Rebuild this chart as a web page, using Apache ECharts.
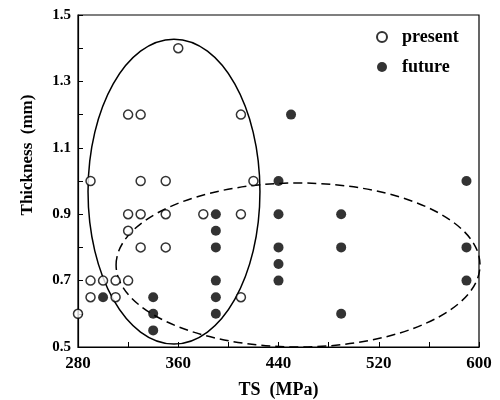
<!DOCTYPE html>
<html>
<head>
<meta charset="utf-8">
<script src="https://cdn.jsdelivr.net/npm/echarts@6/dist/echarts.min.js"></script>
<style>
  html, body { margin: 0; padding: 0; background: #fff; }
  #chart { width: 500px; height: 400px; }
</style>
</head>
<body>
<div id="chart"></div>
<script>
// open circles
const presentTS = [360, 320, 330, 410, 290, 330, 350, 420, 320, 330, 350, 380, 410, 320, 330, 350, 290, 300, 310, 320, 290, 310, 410, 280]
const presentThk = [1.4, 1.2, 1.2, 1.2, 1.0, 1.0, 1.0, 1.0, 0.9, 0.9, 0.9, 0.9, 0.9, 0.85, 0.8, 0.8, 0.7, 0.7, 0.7, 0.7, 0.65, 0.65, 0.65, 0.6]
// filled dots
const futureTS = [450, 440, 590, 390, 440, 490, 390, 390, 440, 490, 590, 440, 390, 440, 590, 300, 340, 390, 340, 390, 490, 340]
const futureThk = [1.2, 1.0, 1.0, 0.9, 0.9, 0.9, 0.85, 0.8, 0.8, 0.8, 0.8, 0.75, 0.7, 0.7, 0.7, 0.65, 0.65, 0.65, 0.6, 0.6, 0.6, 0.55]
// ellipses drawn around the groups, in data units: [centerTS, centerThk, radiusTS, radiusThk]
const presentEllipse = [356.6, 0.968, 68.6, 0.459]
const futureEllipse = [455.6, 0.747, 145.2, 0.247]

const font = 'Liberation Serif'

function pairs(xs, ys) {
  return xs.map((x, i) => [x, ys[i]])
}

const chart = echarts.init(document.getElementById('chart'))

const option = {
  animation: false,
  backgroundColor: '#fff',
  grid: {
    left: 78,
    right: 21,
    top: 15,
    bottom: 53,
    outerBoundsMode: 'none',
    containLabel: false,
    show: true,
    borderColor: '#000',
    borderWidth: 1.2
  },
  legend: {
    orient: 'vertical',
    left: 371,
    top: 23,
    itemGap: 12,
    itemWidth: 12,
    itemHeight: 10,
    textStyle: {
      fontFamily: font,
      fontWeight: 'bold',
      fontSize: 18,
      color: '#000',
      padding: [0, 0, 0, 9]
    },
    data: ['present', 'future']
  },
  xAxis: {
    type: 'value',
    min: 280,
    max: 600,
    interval: 40,
    name: 'TS  (MPa)',
    nameLocation: 'middle',
    nameGap: 34,
    nameTextStyle: {fontFamily: font, fontWeight: 'bold', fontSize: 18, color: '#000'},
    axisLine: {lineStyle: {color: '#000', width: 1.2}},
    axisTick: {inside: true, length: 5, lineStyle: {color: '#000'}},
    splitLine: {show: false},
    axisLabel: {
      fontFamily: font,
      fontWeight: 'bold',
      fontSize: 17,
      color: '#000',
      margin: 8,
      formatter: v => ((v - 280) % 80 === 0 ? String(v) : '')
    }
  },
  yAxis: {
    type: 'value',
    min: 0.5,
    max: 1.5,
    interval: 0.1,
    name: 'Thickness  (mm)',
    nameLocation: 'middle',
    nameGap: 42,
    nameTextStyle: {
      fontFamily: font,
      fontWeight: 'bold',
      fontSize: 17,
      color: '#000',
      padding: [0, 0, 0, 52]
    },
    axisLine: {lineStyle: {color: '#000', width: 1.2}},
    axisTick: {inside: true, length: 5, lineStyle: {color: '#000'}},
    splitLine: {show: false},
    axisLabel: {
      fontFamily: font,
      fontWeight: 'bold',
      fontSize: 15,
      color: '#000',
      margin: 7,
      formatter: v => (Math.round((v - 0.5) * 10) % 2 === 0 ? v.toFixed(1) : '')
    }
  },
  series: [
    {
      name: 'present',
      type: 'scatter',
      symbol: 'circle',
      symbolSize: 9,
      itemStyle: {color: '#fff', borderColor: '#000', borderWidth: 1.5},
      data: pairs(presentTS, presentThk),
      z: 3
    },
    {
      name: 'future',
      type: 'scatter',
      symbol: 'circle',
      symbolSize: 10,
      itemStyle: {color: '#000'},
      data: pairs(futureTS, futureThk),
      z: 3
    }
  ]
}

chart.setOption(option)

function ellipseGraphic(e, dash) {
  const c = chart.convertToPixel({gridIndex: 0}, [e[0], e[1]])
  const edge = chart.convertToPixel({gridIndex: 0}, [e[0] + e[2], e[1] + e[3]])
  return {
    type: 'ellipse',
    shape: {cx: c[0], cy: c[1], rx: Math.abs(edge[0] - c[0]), ry: Math.abs(edge[1] - c[1])},
    style: {fill: null, stroke: '#000', lineWidth: 1.5, lineDash: dash},
    z: 2,
    silent: true
  }
}

chart.setOption({
  graphic: [
    ellipseGraphic(presentEllipse, null),
    ellipseGraphic(futureEllipse, [9, 5])
  ]
})
</script>
</body>
</html>
